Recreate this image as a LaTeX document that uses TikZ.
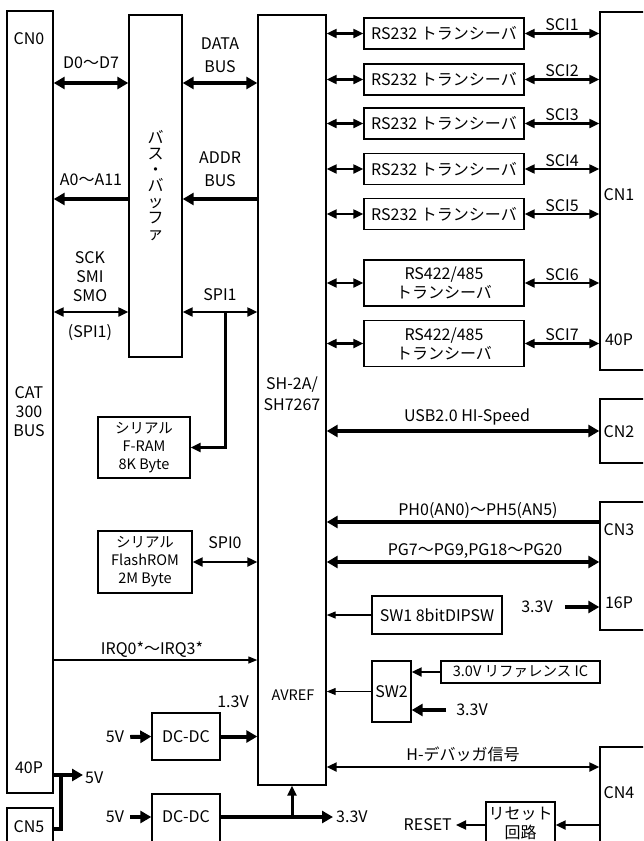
\documentclass[tikz,border=0pt]{standalone}
\usepackage{fontspec}
\setmainfont{Noto Sans CJK JP}
\usetikzlibrary{arrows.meta,positioning}

\newcommand{\lbl}{\fontsize{16}{19}\selectfont}
\newcommand{\sml}{\fontsize{14.5}{18}\selectfont}

\begin{document}
\begin{tikzpicture}[x=1pt, y=-1pt,
    every node/.style={font=\lbl, inner sep=0pt},
    box/.style={draw, line width=1.4pt},
    bus/.style={line width=4pt, >={Triangle[length=11pt,width=12pt]}},
    sig/.style={line width=2.2pt, >={Triangle[length=10pt,width=9pt]}},
    fine/.style={line width=1.3pt, >={Triangle[length=9pt,width=7pt]}}]
    \clip (0,0) rectangle (643,841);

    % Connectors
    \node[box, minimum width=46, minimum height=782] (cn0) at (30,402) {};
    \node[box, minimum width=46, minimum height=60] (cn5) at (30,838) {};
    \node[box, minimum width=70, minimum height=358] (cn1) at (635,191) {};
    \node[box, minimum width=70, minimum height=64] (cn2) at (635,431) {};
    \node[box, minimum width=70, minimum height=128] (cn3) at (635,566) {};
    \node[box, minimum width=70, minimum height=120] (cn4) at (635,807) {};
    \node (cn0lbl) at (29,39) {CN0};
    \node[align=center] (catlbl) at (29,412) {CAT\\300\\BUS};
    \node (cn0pin) at (29,768) {40P};
    \node (cn5lbl) at (29,827) {CN5};
    \node (cn1lbl) at (619,195) {CN1};
    \node (cn1pin) at (619,340) {40P};
    \node (cn2lbl) at (619,432) {CN2};
    \node (cn3lbl) at (619,530) {CN3};
    \node (cn3pin) at (619,603) {16P};
    \node (cn4lbl) at (619,793) {CN4};

    % Bus buffer and CPU
    \node[box, minimum width=53, minimum height=342] (buf) at (155.5,186) {};
    \node[align=center, font=\fontsize{16}{16}\selectfont] (buflbl) at (155.5,186) {バ\\ス\\・\\バ\\ッ\\フ\\ァ};
    \node[box, minimum width=68, minimum height=770] (sh) at (292,400) {};
    \node[align=center, font=\fontsize{16}{21}\selectfont] (shlbl) at (292,394) {SH-2A/\\SH7267};
    \node[font=\sml] (avref) at (293,695) {AVREF};

    % Transceivers
    \foreach \i/\y in {1/33.5,2/79.5,3/123.5,4/169,5/214} {
      \node[box, minimum width=160, minimum height=31] (rs\i) at (444,\y) {RS232 トランシーバ};
      \draw[sig,<->] (sh.east |- rs\i) -- (rs\i.west);
      \draw[sig,<->] (rs\i.east) -- (cn1.west |- rs\i) node[midway, above=1.5pt] (sci\i) {SCI\i};
    }
    \foreach \i/\y in {6/283,7/343.5} {
      \node[box, align=center, minimum width=160, minimum height=46] (rs\i) at (444,\y) {RS422/485\\トランシーバ};
      \draw[sig,<->] (sh.east |- rs\i) -- (rs\i.west);
      \draw[sig,<->] (rs\i.east) -- (cn1.west |- rs\i) node[midway, above=1.5pt] (sci\i) {SCI\i};
    }

    % Local bus
    \coordinate (ydata) at (0,83);
    \coordinate (yaddr) at (0,199);
    \coordinate (yspi) at (0,312);
    \draw[bus,<->] (cn0.east |- ydata) -- (buf.west |- ydata);
    \draw[bus,<->] (buf.east |- ydata) -- (sh.west |- ydata);
    \draw[bus,->] (buf.west |- yaddr) -- (cn0.east |- yaddr);
    \draw[bus,->] (sh.west |- yaddr) -- (buf.east |- yaddr);
    \draw[sig,<->] (cn0.east |- yspi) -- (buf.west |- yspi);
    \draw[sig,<->] (buf.east |- yspi) -- (sh.west |- yspi);
    \node (dlbl) at (91,63) {D0～D7};
    \node (albl) at (91,180) {A0～A11};
    \node[align=center] (spilbl) at (90,277) {SCK\\SMI\\SMO};
    \node (spi1b) at (90,333) {(SPI1)};
    \node[align=center, font=\fontsize{16}{23}\selectfont] (datalbl) at (220,55) {DATA\\BUS};
    \node[align=center, font=\fontsize{16}{23}\selectfont] (addrlbl) at (220,169) {ADDR\\BUS};
    \node (spi1a) at (220,295) {SPI1};

    % Serial memories
    \node[box, font=\sml, align=center, minimum width=92, minimum height=61] (fram) at (144,447.5) {シリアル\\F-RAM\\8K Byte};
    \node[box, font=\sml, align=center, minimum width=94, minimum height=62] (flash) at (145,562) {シリアル\\FlashROM\\2M Byte};
    \coordinate (spitap) at (225,312);
    \draw[line width=3pt, >={Triangle[length=10pt,width=9pt]}, ->] (spitap) |- (fram.east);
    \draw[sig,<->] (flash.east) -- (sh.west |- flash.east);
    \node (spi0lbl) at (225,543) {SPI0};

    % Interrupts
    \coordinate (yirq) at (0,660);
    \draw[fine,->] (cn0.east |- yirq) -- (sh.west |- yirq);
    \node (irqlbl) at (152,650) {IRQ0*～IRQ3*};

    % Power
    \node[box, minimum width=68, minimum height=47] (dc1) at (186,736.5) {DC-DC};
    \node (dc1in) at (115,737) {5V};
    \draw[bus,->] ([xshift=6pt]dc1in.east) -- (dc1.west);
    \draw[bus,->] (dc1.east) -- (sh.west |- dc1.east);
    \node (v13) at (233,702) {1.3V};
    \node[box, minimum width=68, minimum height=70] (dc2) at (186,829) {};
    \node (dc2lbl) at (186,817) {DC-DC};
    \node (dc2in) at (115,817) {5V};
    \draw[bus,->] ([xshift=6pt]dc2in.east) -- (dc2.west |- dc2lbl);
    \node[anchor=west] (v33a) at (336,817) {3.3V};
    \draw[bus,->] (dc2.east |- dc2lbl) -- ([xshift=-3pt]v33a.west);
    \draw[line width=3pt, >={Triangle[length=10pt,width=9pt]}, ->] (sh.south |- dc2lbl) -- (sh.south);
    \coordinate (cn5tap) at (61,829);
    \coordinate (y5v) at (0,775);
    \node[anchor=west] (v5out) at (85,778) {5V};
    \draw[bus] (cn5.east |- cn5tap) -- (cn5tap) -- (cn5tap |- y5v);
    \draw[bus,->] (cn0.east |- y5v) -- ([xshift=-2pt]v5out.west |- y5v);

    % USB and ports
    \draw[bus,<->] (sh.east |- cn2) -- (cn2.west);
    \node (usblbl) at (467,417) {USB2.0 HI-Speed};
    \coordinate (yph) at (0,522);
    \coordinate (ypg) at (0,562);
    \draw[bus,->] (cn3.west |- yph) -- (sh.east |- yph);
    \draw[bus,<->] (sh.east |- ypg) -- (cn3.west |- ypg);
    \node (phlbl) at (478,511) {PH0(AN0)～PH5(AN5)};
    \node (pglbl) at (475,551) {PG7～PG9,PG18～PG20};
    \node (v33b) at (537,607) {3.3V};
    \draw[bus,->] ([xshift=12pt]v33b.east) -- (cn3.west |- v33b);

    % Switches
    \node[box, minimum width=130, minimum height=38] (sw1) at (437,615) {SW1 8bitDIPSW};
    \draw[fine,->] (sw1.west) -- (sh.east |- sw1.west);
    \node[box, minimum width=39, minimum height=61] (sw2) at (391.5,691.5) {SW2};
    \draw[fine,->] (sw2.west) -- (sh.east |- sw2.west);
    \node[box, font=\sml, minimum width=159, minimum height=22] (refic) at (520.5,672) {3.0V リファレンス IC};
    \draw[sig,->] (refic.west) -- (sw2.east |- refic.west);
    \node (v33c) at (472,710) {3.3V};
    \draw[bus,->] ([xshift=-10pt]v33c.west) -- (sw2.east |- v33c);

    % Debug and reset
    \coordinate (ydbg) at (0,767);
    \draw[sig,<->] (sh.east |- ydbg) -- (cn4.west |- ydbg);
    \node (dbglbl) at (463,754) {H-デバッガ信号};
    \node[box, minimum width=69, minimum height=60] (rst) at (520.5,832) {};
    \node[align=center] (rstlbl) at (520.5,823.5) {リセット\\回路};
    \coordinate (yrst) at (0,825);
    \draw[sig,->] (cn4.west |- yrst) -- (rst.east |- yrst);
    \node[anchor=east] (rstout) at (452,825) {RESET};
    \draw[sig,->] (rst.west |- yrst) -- ([xshift=4pt]rstout.east);
\end{tikzpicture}
\end{document}
